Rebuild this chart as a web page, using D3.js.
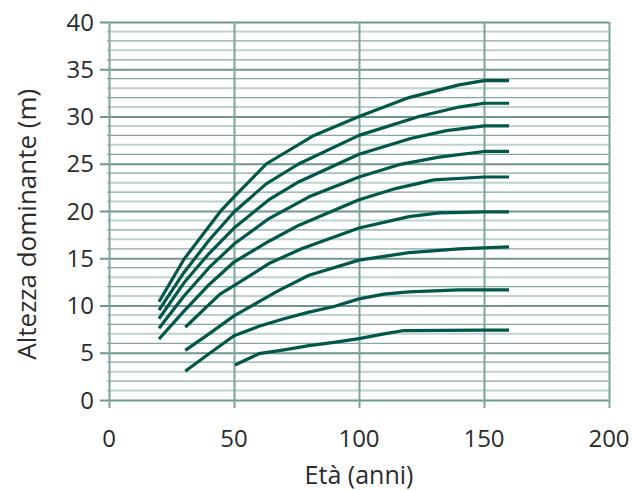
<!DOCTYPE html>
<html><head><meta charset="utf-8">
<script src="https://cdn.jsdelivr.net/npm/d3@7"></script>
<style>body{margin:0;background:#fff}svg{display:block}</style>
</head><body>
<svg id="c" width="632" height="490"></svg>
<script>
const xTicks = [0, 50, 100, 150, 200];
const yTicks = [0, 5, 10, 15, 20, 25, 30, 35, 40];
const xLabel = "Età (anni)";
const yLabel = "Altezza dominante (m)";
// each curve: [età, altezza]
const curve1 = [[20,10.4],[30,14.9],[45,20.1],[50,21.5],[63,25.0],[82,28.0],[100,30.0],[120,32.0],[140,33.35],[150,33.8],[160,33.8]];
const curve2 = [[20,9.5],[30,13.5],[40,16.9],[50,19.9],[63,22.9],[76,25.0],[100,28.0],[124,30.0],[140,31.0],[150,31.4],[160,31.4]];
const curve3 = [[20,8.6],[30,12.4],[40,15.5],[50,18.2],[64,21.2],[76,23.1],[100,26.0],[121,27.7],[135,28.5],[150,29.0],[160,29.0]];
const curve4 = [[20,7.6],[30,11.0],[40,14.0],[50,16.5],[64,19.2],[80,21.5],[100,23.6],[116,24.9],[132,25.7],[150,26.3],[160,26.3]];
const curve5 = [[20,6.45],[30,9.4],[40,12.2],[50,14.6],[64,16.8],[76,18.5],[100,21.2],[115,22.4],[130,23.3],[150,23.6],[160,23.6]];
const curve6 = [[30.5,7.7],[44.4,11.2],[50,12.1],[64.4,14.5],[77,16.0],[100,18.2],[120,19.4],[132,19.8],[150,19.9],[160,19.9]];
const curve7 = [[30.5,5.25],[40,7.0],[50,8.9],[60,10.4],[68,11.6],[80,13.2],[100,14.8],[120,15.6],[140,16.0],[160,16.2]];
const curve8 = [[30.5,3.05],[40,4.9],[50,6.8],[60,7.8],[70,8.6],[80,9.3],[90,9.9],[100,10.7],[110,11.2],[120,11.45],[140,11.65],[160,11.65]];
const curve9 = [[50.4,3.7],[60,4.9],[70,5.3],[80,5.75],[90,6.1],[100,6.5],[110,7.0],[118,7.35],[150,7.4],[160,7.4]];
const curves = [curve1, curve2, curve3, curve4, curve5, curve6, curve7, curve8, curve9];

const svg = d3.select("#c");
const L = 109, R = 609, T = 22, B = 400;
const x = d3.scaleLinear().domain([0, 200]).range([L, R]);
const y = d3.scaleLinear().domain([0, 40]).range([B, T]);

const font = "'Open Sans', sans-serif";
const textCol = "#2b2b2b";

// minor horizontal grid
const minor = d3.range(1, 40).filter(v => v % 5 !== 0);
svg.append("g").selectAll("line").data(minor).join("line")
  .attr("x1", L - 2).attr("x2", R)
  .attr("y1", d => y(d)).attr("y2", d => y(d))
  .attr("stroke", d => d % 2 === 1 ? "#bcd3ce" : "#84a8a1")
  .attr("stroke-width", d => d % 2 === 1 ? 2 : 1.3);

// major horizontal grid (with ticks) via axis
const yAxis = svg.append("g").attr("transform", `translate(${R},0)`)
  .call(d3.axisLeft(y).tickValues(yTicks).tickSize(R - L + 9).tickFormat(""));
yAxis.select(".domain").remove();
yAxis.selectAll(".tick line").attr("stroke", "#6f968f").attr("stroke-width", 2);

// vertical grid via axis
const xAxis = svg.append("g").attr("transform", `translate(0,${T})`)
  .call(d3.axisBottom(x).tickValues(xTicks).tickSize(B - T + 8).tickFormat(""));
xAxis.select(".domain").remove();
xAxis.selectAll(".tick line").attr("stroke", "#7ea39c").attr("stroke-width", 2);

// tick labels
svg.append("g").selectAll("text").data(yTicks).join("text")
  .attr("x", 94).attr("y", d => y(d) + 8.5)
  .attr("text-anchor", "end").attr("font-family", font).attr("font-size", 24)
  .attr("fill", textCol).text(d => d);
svg.append("g").selectAll("text").data(xTicks).join("text")
  .attr("x", d => x(d)).attr("y", 447)
  .attr("text-anchor", "middle").attr("font-family", font).attr("font-size", 24)
  .attr("fill", textCol).text(d => d);

svg.append("text").attr("x", x(100)).attr("y", 484)
  .attr("text-anchor", "middle").attr("font-family", font).attr("font-size", 25)
  .attr("fill", textCol).text(xLabel);
svg.append("text").attr("transform", `translate(36,${y(18.6)}) rotate(-90)`)
  .attr("text-anchor", "middle").attr("font-family", font).attr("font-size", 26)
  .attr("fill", textCol).text(yLabel);

// curves
const line = d3.line().x(d => x(d[0])).y(d => y(d[1]));
svg.append("g").selectAll("path").data(curves).join("path")
  .attr("d", line).attr("fill", "none")
  .attr("stroke", "#02574a").attr("stroke-width", 3.2)
  .attr("stroke-linejoin", "round");
</script>
</body></html>
